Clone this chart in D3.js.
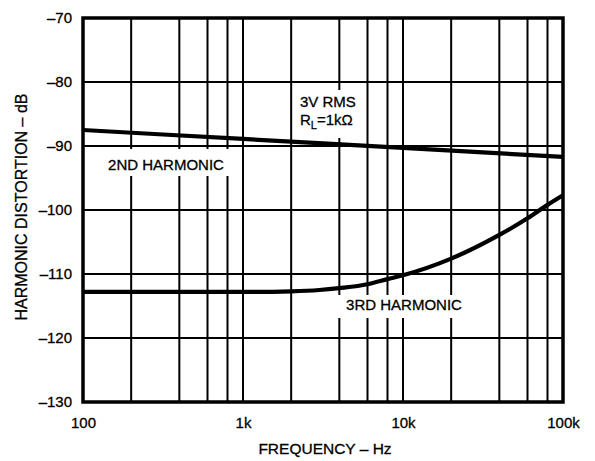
<!DOCTYPE html>
<html>
<head>
<meta charset="utf-8">
<script src="https://cdn.jsdelivr.net/npm/d3@7"></script>
<style>
  html, body { margin: 0; padding: 0; background: #fff; }
  svg { display: block; font-family: Arial, "Liberation Sans", sans-serif; }
  svg text { fill: #000; stroke: #000; stroke-width: 0.3px; }
</style>
</head>
<body>
<svg id="chart" width="595" height="461"></svg>
<script>
// Frequency points (Hz) and distortion readings (dB)
const freqs2 = [100, 1000, 10000, 100000];
const harm2 = [-87.5, -88.9, -90.3, -91.7];

const freqs3 = [100, 200, 500, 1000, 2000, 3000, 4000, 6000, 8000, 10000, 20000, 40000, 60000, 80000, 100000];
const harm3 = [-112.8, -112.8, -112.8, -112.8, -112.7, -112.5, -112.2, -111.6, -110.8, -110.2, -107.6, -103.9, -101.3, -99.2, -97.7];

// Axis ticks
const xTickValues = [100, 1000, 10000, 100000];
const xTickLabels = ["100", "1k", "10k", "100k"];
const xGridValues = [200, 400, 600, 800, 1000, 2000, 4000, 6000, 8000, 10000, 20000, 40000, 60000, 80000];
const yTickValues = [-70, -80, -90, -100, -110, -120, -130];

const margin = { left: 83, right: 32, top: 18, bottom: 59 };
const W = 595, H = 461;
const svg = d3.select("#chart");

const x = d3.scaleLog().domain([100, 100000]).range([margin.left, W - margin.right]);
const y = d3.scaleLinear().domain([-130, -70]).range([H - margin.bottom, margin.top]);

const fmt = v => (v < 0 ? "\u2013" + Math.abs(v) : String(v));

// Grid
const grid = svg.append("g").attr("stroke", "#000").attr("stroke-width", 2);
grid.selectAll("line.v").data(xGridValues).join("line")
  .attr("class", "v")
  .attr("x1", d => x(d)).attr("x2", d => x(d))
  .attr("y1", y(-70)).attr("y2", y(-130));
grid.selectAll("line.h").data(yTickValues.slice(1, -1)).join("line")
  .attr("class", "h")
  .attr("x1", x(100)).attr("x2", x(100000))
  .attr("y1", d => y(d)).attr("y2", d => y(d));

// White panels behind the annotations
const panels = [
  { x: 100, y: 149, w: 131, h: 27 },
  { x: 297, y: 90, w: 65, h: 48 },
  { x: 338, y: 295, w: 132, h: 23 }
];
svg.append("g").selectAll("rect").data(panels).join("rect")
  .attr("x", d => d.x).attr("y", d => d.y)
  .attr("width", d => d.w).attr("height", d => d.h)
  .attr("fill", "#fff");

// Curves
const line = d3.line().x(d => x(d[0])).y(d => y(d[1])).curve(d3.curveMonotoneX);
svg.append("path")
  .datum(d3.zip(freqs2, harm2))
  .attr("d", line)
  .attr("fill", "none").attr("stroke", "#000").attr("stroke-width", 4.2);
svg.append("path")
  .datum(d3.zip(freqs3, harm3))
  .attr("d", line)
  .attr("fill", "none").attr("stroke", "#000").attr("stroke-width", 4.2);

// Frame
svg.append("rect")
  .attr("x", x(100)).attr("y", y(-70))
  .attr("width", x(100000) - x(100)).attr("height", y(-130) - y(-70))
  .attr("fill", "none").attr("stroke", "#000").attr("stroke-width", 3.5);

// Axes (labels only; the frame and grid carry the lines)
const yAxis = d3.axisLeft(y).tickValues(yTickValues).tickSize(0).tickPadding(11).tickFormat(fmt);
const gy = svg.append("g").attr("transform", `translate(${x(100)},0)`).call(yAxis);
gy.select(".domain").remove();
gy.selectAll("text").attr("font-size", 15).attr("font-family", "Arial, 'Liberation Sans', sans-serif");

const xAxis = d3.axisBottom(x).tickValues(xTickValues).tickSize(0).tickPadding(15)
  .tickFormat((d, i) => xTickLabels[i]);
const gx = svg.append("g").attr("transform", `translate(0,${y(-130)})`).call(xAxis);
gx.select(".domain").remove();
gx.selectAll("text").attr("font-size", 15).attr("font-family", "Arial, 'Liberation Sans', sans-serif");

// Axis titles
svg.append("text")
  .attr("x", (x(100) + x(100000)) / 2 + 2).attr("y", 454)
  .attr("text-anchor", "middle").attr("font-size", 15.5)
  .text("FREQUENCY \u2013 Hz");
svg.append("text")
  .attr("transform", `translate(27,207) rotate(-90)`)
  .attr("text-anchor", "middle").attr("font-size", 16)
  .text("HARMONIC DISTORTION \u2013 dB");

// Annotations
svg.append("text").attr("x", 166).attr("y", 170).attr("text-anchor", "middle")
  .attr("font-size", 15).text("2ND HARMONIC");
svg.append("text").attr("x", 404).attr("y", 310).attr("text-anchor", "middle")
  .attr("font-size", 15).text("3RD HARMONIC");
svg.append("text").attr("x", 300).attr("y", 107).attr("font-size", 15).text("3V RMS");
const rl = svg.append("text").attr("x", 300).attr("y", 125).attr("font-size", 15);
rl.append("tspan").text("R");
rl.append("tspan").attr("font-size", 11).attr("dy", 4).text("L");
rl.append("tspan").attr("dy", -4).text("=1k\u03A9");
</script>
</body>
</html>
